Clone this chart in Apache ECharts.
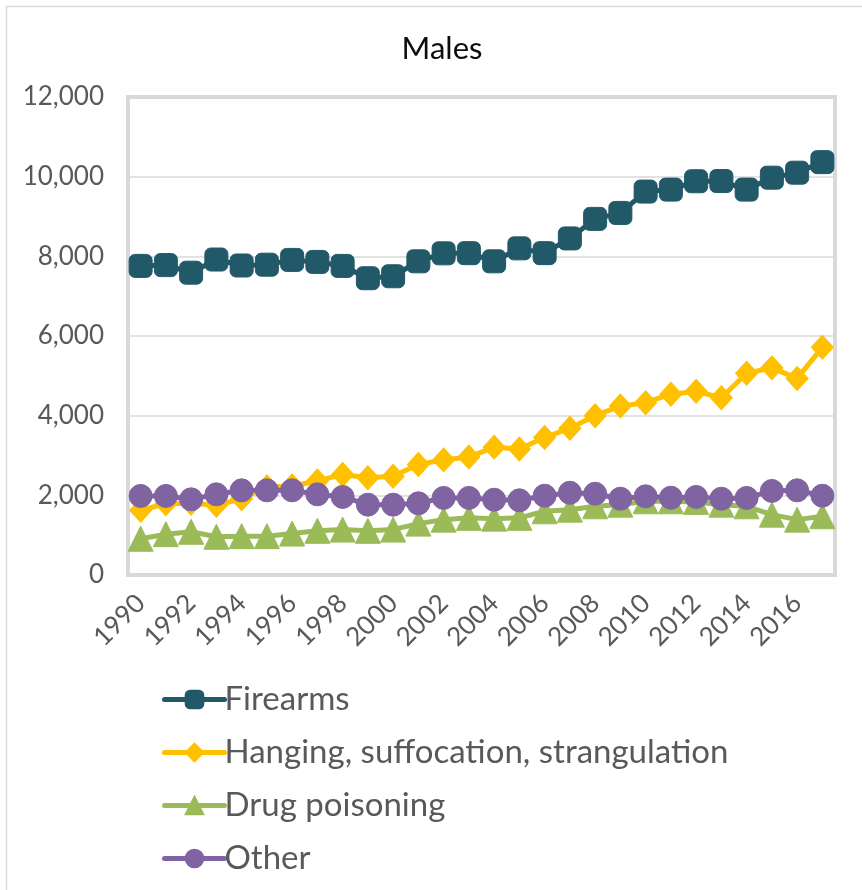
<!DOCTYPE html>
<html>
<head>
<meta charset="utf-8">
<title>Males</title>
<script src="https://cdn.jsdelivr.net/npm/echarts@6/dist/echarts.min.js"></script>
<style>
  html, body { margin: 0; padding: 0; background: #ffffff; }
  #chart { width: 862px; height: 890px; }
</style>
</head>
<body>
<div id="chart"></div>
<script>
// Years on the category axis
const years = ['1990','1991','1992','1993','1994','1995','1996','1997','1998','1999',
  '2000','2001','2002','2003','2004','2005','2006','2007','2008','2009',
  '2010','2011','2012','2013','2014','2015','2016','2017'];

// Male suicides by method
const firearms = [7760, 7780, 7590, 7920, 7770, 7790, 7910, 7860, 7760, 7450,
  7500, 7875, 8075, 8080, 7875, 8200, 8080, 8450, 8940, 9090,
  9625, 9675, 9885, 9890, 9675, 9975, 10100, 10365];
const hanging = [1625, 1790, 1800, 1750, 1915, 2210, 2235, 2360, 2525, 2440,
  2480, 2775, 2890, 2960, 3210, 3165, 3450, 3685, 4000, 4240,
  4325, 4540, 4610, 4450, 5065, 5200, 4935, 5715];
const drugPoisoning = [910, 1025, 1085, 960, 975, 975, 1040, 1110, 1140, 1110,
  1140, 1290, 1390, 1435, 1415, 1435, 1600, 1640, 1725, 1765,
  1850, 1850, 1835, 1765, 1725, 1515, 1390, 1475];
const other = [1985, 1985, 1900, 2025, 2125, 2125, 2125, 2025, 1960, 1765,
  1765, 1800, 1935, 1935, 1890, 1875, 1990, 2065, 2040, 1915,
  1975, 1940, 1960, 1915, 1935, 2110, 2125, 1990];

// Y-axis range and step
const yMin = 0, yMax = 12000, yStep = 2000;

const FONT = 'Lato';
const GRAY = '#d9d9d9';
const TEXT = '#595959';

function makeSeries(name, data, color, symbol, size) {
  return {
    name: name,
    type: 'line',
    data: data,
    symbol: symbol,
    symbolSize: size,
    showAllSymbol: true,
    lineStyle: { color: color, width: 5, cap: 'round' },
    itemStyle: { color: color, borderColor: color, borderWidth: 1 },
    emphasis: { disabled: true },
    animation: false
  };
}

const chart = echarts.init(document.getElementById('chart'), null, { renderer: 'canvas' });

chart.setOption({
  backgroundColor: '#ffffff',
  animation: false,
  title: {
    text: 'Males',
    left: 437,
    textAlign: 'center',
    top: 28,
    textStyle: { fontFamily: FONT, fontSize: 31, fontWeight: 'normal', color: '#0d0d0d' }
  },
  graphic: [{
    type: 'rect',
    silent: true,
    shape: { x: 6.5, y: 6.5, width: 900, height: 900 },
    style: { fill: 'none', stroke: GRAY, lineWidth: 1.5 }
  }],
  grid: {
    left: 128, right: 27, top: 97, bottom: 315,
    show: true,
    borderColor: GRAY,
    borderWidth: 4,
    containLabel: false
  },
  legend: {
    orient: 'vertical',
    left: 157,
    top: 678,
    height: 260,
    itemWidth: 60,
    itemHeight: 22,
    itemGap: 20,
    lineStyle: { width: 5, cap: 'round' },
    textStyle: { fontFamily: FONT, fontSize: 33, color: TEXT, padding: [0, 0, 0, -5] },
    data: ['Firearms', 'Hanging, suffocation, strangulation', 'Drug poisoning', 'Other']
  },
  xAxis: {
    type: 'category',
    data: years,
    boundaryGap: true,
    axisLine: { show: false },
    axisTick: { show: false },
    axisLabel: {
      interval: 1,
      rotate: 45,
      margin: 24,
      fontFamily: FONT,
      fontSize: 26,
      color: TEXT
    },
    splitLine: { show: false }
  },
  yAxis: {
    type: 'value',
    min: yMin,
    max: yMax,
    interval: yStep,
    axisLine: { show: false },
    axisTick: { show: false },
    axisLabel: {
      margin: 24,
      fontFamily: FONT,
      fontSize: 26,
      color: TEXT,
      formatter: v => v.toLocaleString('en-US')
    },
    splitLine: { lineStyle: { color: GRAY, width: 1.5 } }
  },
  series: [
    makeSeries('Firearms', firearms, '#215968', 'roundRect', 23),
    makeSeries('Hanging, suffocation, strangulation', hanging, '#ffc000', 'diamond', [22, 24]),
    makeSeries('Drug poisoning', drugPoisoning, '#9bbb59', 'triangle', [25, 25]),
    makeSeries('Other', other, '#8064a2', 'circle', 23)
  ]
});
</script>
</body>
</html>
